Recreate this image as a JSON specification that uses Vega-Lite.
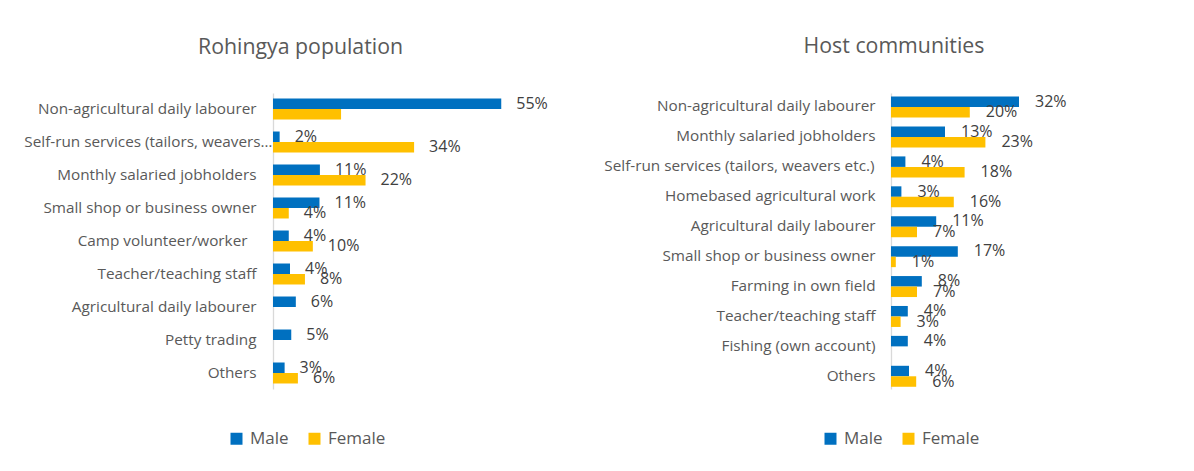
{
  "$schema": "https://vega.github.io/schema/vega-lite/v6.json",
  "background": "white",
  "padding": {"left": 23, "top": 35, "right": 5, "bottom": 5},
  "spacing": 55,
  "config": {
    "font": "Open Sans",
    "view": {"stroke": null},
    "axisY": {"domainColor": "#D9D9D9", "domainWidth": 1.3, "ticks": false, "labelFontSize": 15.3, "labelColor": "#595959", "labelLimit": 400, "title": null},
    "legend": {"labelFontSize": 17, "labelColor": "#595959", "symbolType": "square", "symbolSize": 144, "symbolStrokeWidth": 0, "labelOffset": 5, "columnPadding": 17, "direction": "horizontal", "orient": "none", "title": null}
  },
  "datasets": {
    "rohingya": [
      {"occupation": "Non-agricultural daily labourer", "sex": "Male", "value": 55, "label": "55%"},
      {"occupation": "Non-agricultural daily labourer", "sex": "Female", "value": 16.4, "label": ""},
      {"occupation": "Self-run services (tailors, weavers…", "sex": "Male", "value": 1.6, "label": "2%"},
      {"occupation": "Self-run services (tailors, weavers…", "sex": "Female", "value": 34, "label": "34%"},
      {"occupation": "Monthly salaried jobholders", "sex": "Male", "value": 11.3, "label": "11%"},
      {"occupation": "Monthly salaried jobholders", "sex": "Female", "value": 22.3, "label": "22%"},
      {"occupation": "Small shop or business owner", "sex": "Male", "value": 11.2, "label": "11%"},
      {"occupation": "Small shop or business owner", "sex": "Female", "value": 3.8, "label": "4%"},
      {"occupation": "Camp volunteer/worker", "sex": "Male", "value": 3.8, "label": "4%"},
      {"occupation": "Camp volunteer/worker", "sex": "Female", "value": 9.6, "label": "10%"},
      {"occupation": "Teacher/teaching staff", "sex": "Male", "value": 4.1, "label": "4%"},
      {"occupation": "Teacher/teaching staff", "sex": "Female", "value": 7.7, "label": "8%"},
      {"occupation": "Agricultural daily labourer", "sex": "Male", "value": 5.5, "label": "6%"},
      {"occupation": "Petty trading", "sex": "Male", "value": 4.4, "label": "5%"},
      {"occupation": "Others", "sex": "Male", "value": 2.8, "label": "3%"},
      {"occupation": "Others", "sex": "Female", "value": 6, "label": "6%"}
    ],
    "host": [
      {"occupation": "Non-agricultural daily labourer", "sex": "Male", "value": 32, "label": "32%"},
      {"occupation": "Non-agricultural daily labourer", "sex": "Female", "value": 19.7, "label": "20%"},
      {"occupation": "Monthly salaried jobholders", "sex": "Male", "value": 13.5, "label": "13%"},
      {"occupation": "Monthly salaried jobholders", "sex": "Female", "value": 23.6, "label": "23%"},
      {"occupation": "Self-run services (tailors, weavers etc.)", "sex": "Male", "value": 3.6, "label": "4%"},
      {"occupation": "Self-run services (tailors, weavers etc.)", "sex": "Female", "value": 18.4, "label": "18%"},
      {"occupation": "Homebased agricultural work", "sex": "Male", "value": 2.6, "label": "3%"},
      {"occupation": "Homebased agricultural work", "sex": "Female", "value": 15.7, "label": "16%"},
      {"occupation": "Agricultural daily labourer", "sex": "Male", "value": 11.3, "label": "11%"},
      {"occupation": "Agricultural daily labourer", "sex": "Female", "value": 6.5, "label": "7%"},
      {"occupation": "Small shop or business owner", "sex": "Male", "value": 16.7, "label": "17%"},
      {"occupation": "Small shop or business owner", "sex": "Female", "value": 1.2, "label": "1%"},
      {"occupation": "Farming in own field", "sex": "Male", "value": 7.7, "label": "8%"},
      {"occupation": "Farming in own field", "sex": "Female", "value": 6.5, "label": "7%"},
      {"occupation": "Teacher/teaching staff", "sex": "Male", "value": 4.2, "label": "4%"},
      {"occupation": "Teacher/teaching staff", "sex": "Female", "value": 2.4, "label": "3%"},
      {"occupation": "Fishing (own account)", "sex": "Male", "value": 4.2, "label": "4%"},
      {"occupation": "Others", "sex": "Male", "value": 4.5, "label": "4%"},
      {"occupation": "Others", "sex": "Female", "value": 6.3, "label": "6%"}
    ]
  },
  "hconcat": [
    {
      "data": {"name": "rohingya"},
      "title": {"text": "Rohingya population", "anchor": "middle", "frame": "group", "fontSize": 21.3, "fontWeight": "normal", "color": "#595959", "dx": -97, "offset": 34.5},
      "width": 249,
      "height": 296,
      "encoding": {
        "y": {"field": "occupation", "type": "nominal", "sort": null, "scale": {"paddingInner": 0.364, "paddingOuter": 0.167},
          "axis": {"title": null, "labelPadding": {"condition": [{"test": "datum.value === 'Self-run services (tailors, weavers…'", "value": 1}, {"test": "datum.value === 'Camp volunteer/worker'", "value": 26}], "value": 17}}},
        "yOffset": {"field": "sex", "type": "nominal", "sort": ["Male", "Female"]},
        "x": {"field": "value", "type": "quantitative", "scale": {"domain": [0, 60], "nice": false}, "axis": null}
      },
      "layer": [
        {
          "mark": {"type": "bar"},
          "encoding": {
            "color": {"field": "sex", "type": "nominal", "scale": {"domain": ["Male", "Female"], "range": ["#0070C0", "#FFC000"]}, "legend": {"legendX": -45, "legendY": 337}}
          }
        },
        {
          "mark": {"type": "text", "align": "left", "baseline": "middle", "dx": 15, "fontSize": 16, "color": "#404040"},
          "encoding": {"text": {"field": "label"}}
        }
      ]
    },
    {
      "data": {"name": "host"},
      "title": {"text": "Host communities", "anchor": "middle", "frame": "group", "fontSize": 21.3, "fontWeight": "normal", "color": "#595959", "dx": -77, "offset": 36},
      "width": 160,
      "height": 296,
      "encoding": {
        "y": {"field": "occupation", "type": "nominal", "sort": null, "scale": {"paddingInner": 0.344, "paddingOuter": 0.12},
          "axis": {"title": null, "labelPadding": {"condition": {"test": "datum.value === 'Self-run services (tailors, weavers etc.)'", "value": 17}, "value": 16}}},
        "yOffset": {"field": "sex", "type": "nominal", "sort": ["Male", "Female"]},
        "x": {"field": "value", "type": "quantitative", "scale": {"domain": [0, 40], "nice": false}, "axis": null}
      },
      "layer": [
        {
          "mark": {"type": "bar"},
          "encoding": {
            "color": {"field": "sex", "type": "nominal", "scale": {"domain": ["Male", "Female"], "range": ["#0070C0", "#FFC000"]}, "legend": {"legendX": -69, "legendY": 337}}
          }
        },
        {
          "mark": {"type": "text", "align": "left", "baseline": "middle", "dx": 16, "fontSize": 16, "color": "#404040"},
          "encoding": {"text": {"field": "label"}}
        }
      ]
    }
  ],
  "resolve": {"legend": {"color": "independent"}}
}
